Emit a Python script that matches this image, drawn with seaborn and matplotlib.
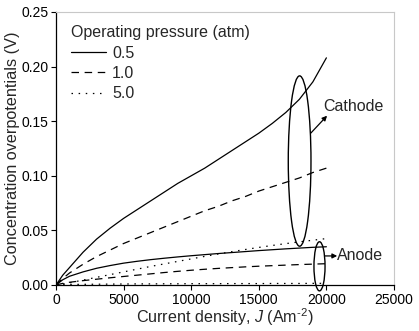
import numpy as np
import pandas as pd
import matplotlib
matplotlib.use("Agg")
import matplotlib.pyplot as plt
from matplotlib.patches import Ellipse
from matplotlib.lines import Line2D
import seaborn as sns

# ---- data ----
J = [0, 500, 1000, 2000, 3000, 4000, 5000, 6000, 7000, 8000, 9000, 10000,
     11000, 12000, 13000, 14000, 15000, 16000, 17000, 18000, 19000, 20000]

cathode_05 = [0, 0.009, 0.016, 0.030, 0.042, 0.052, 0.061, 0.069, 0.077, 0.085, 0.093, 0.100,
              0.107, 0.115, 0.123, 0.131, 0.139, 0.148, 0.158, 0.170, 0.186, 0.208]
cathode_10 = [0, 0.006, 0.011, 0.019, 0.026, 0.032, 0.038, 0.043, 0.048, 0.053, 0.058, 0.063,
              0.068, 0.072, 0.077, 0.081, 0.086, 0.090, 0.094, 0.098, 0.103, 0.107]
cathode_50 = [0, 0.001, 0.002, 0.0045, 0.007, 0.0095, 0.012, 0.0145, 0.017, 0.0193, 0.0216, 0.0239,
              0.0262, 0.0284, 0.0305, 0.0325, 0.0344, 0.0362, 0.0379, 0.0395, 0.041, 0.0425]
anode_05 = [0, 0.0048, 0.008, 0.012, 0.0153, 0.0178, 0.020, 0.0217, 0.0232, 0.0245, 0.0257, 0.0268,
            0.0278, 0.0288, 0.0297, 0.0306, 0.0315, 0.0323, 0.0331, 0.0338, 0.0345, 0.035]
anode_10 = [0, 0.0015, 0.0025, 0.004, 0.0053, 0.0066, 0.0078, 0.009, 0.0102, 0.0114, 0.0125, 0.0135,
            0.0144, 0.0152, 0.0159, 0.0166, 0.0172, 0.0177, 0.0182, 0.0187, 0.0191, 0.0195]
anode_50 = [0, 0.0003, 0.0005, 0.0006, 0.0007, 0.0008, 0.0009, 0.001, 0.001, 0.0011, 0.0011, 0.0012,
            0.0012, 0.0012, 0.0013, 0.0013, 0.0013, 0.0014, 0.0014, 0.0014, 0.0015, 0.0015]

pressures = ["0.5", "1.0", "5.0"]
x_ticks = [0, 5000, 10000, 15000, 20000, 25000]
y_ticks = [0.00, 0.05, 0.10, 0.15, 0.20, 0.25]

series = {
    ("Cathode", "0.5"): cathode_05, ("Cathode", "1.0"): cathode_10, ("Cathode", "5.0"): cathode_50,
    ("Anode", "0.5"): anode_05, ("Anode", "1.0"): anode_10, ("Anode", "5.0"): anode_50,
}
rows = []
for (el, p), vals in series.items():
    for j, v in zip(J, vals):
        rows.append({"J": j, "eta": v, "pressure": p, "electrode": el})
df = pd.DataFrame(rows)

# ---- style ----
sns.set_style("ticks")
plt.rcParams["font.family"] = ["Liberation Sans", "DejaVu Sans"]
plt.rcParams["mathtext.fontset"] = "custom"
plt.rcParams["mathtext.rm"] = "Liberation Sans"
plt.rcParams["mathtext.it"] = "Liberation Sans:italic"

fig = plt.figure(figsize=(4.19, 3.31), dpi=100)
ax = fig.add_axes([0.1337, 0.139, 0.8066, 0.8248])

dash_map = {"0.5": "", "1.0": (6.0, 4.5), "5.0": (1.2, 4.5)}
lw = 0.9
sns.lineplot(data=df, x="J", y="eta", style="pressure", style_order=pressures,
             units="electrode", estimator=None, color="black", linewidth=lw,
             dashes=dash_map, legend=False, ax=ax)

ax.set_xlim(0, 25000)
ax.set_ylim(0, 0.25)
ax.set_xticks(x_ticks)
ax.set_yticks(y_ticks)
ax.set_yticklabels([f"{v:.2f}" for v in y_ticks])
ax.tick_params(axis="both", direction="out", length=3.5, width=0.8, labelsize=10, colors="black", pad=2)

for s in ["left", "bottom"]:
    ax.spines[s].set_color("black")
    ax.spines[s].set_linewidth(0.9)
for s in ["top", "right"]:
    ax.spines[s].set_visible(True)
    ax.spines[s].set_color("#c8c8c8")
    ax.spines[s].set_linewidth(0.8)

ax.set_xlabel("Current density, $J$ (Am$^{\u2010\\mathrm{2}}$)", fontsize=11.6, labelpad=0)
ax.set_ylabel("Concentration overpotentials (V)", fontsize=11.7, labelpad=1)

# legend
handles = [Line2D([], [], color="black", lw=lw, linestyle="-"),
           Line2D([], [], color="black", lw=lw, linestyle=(0, (6.0, 4.5))),
           Line2D([], [], color="black", lw=lw, linestyle=(0, (1.2, 4.5)))]
leg = ax.legend(handles, pressures, title="Operating pressure (atm)", loc="upper left",
                bbox_to_anchor=(0.045, 0.952), frameon=False, fontsize=11.5,
                title_fontsize=11.5, handlelength=2.2, handletextpad=0.35,
                labelspacing=0.34, borderpad=0, borderaxespad=0, alignment="left")

# ellipses
ax.add_patch(Ellipse((18020, 0.1135), 1680, 0.156, fill=False, edgecolor="black", lw=1.0))
ax.add_patch(Ellipse((19490, 0.0171), 820, 0.045, fill=False, edgecolor="black", lw=1.0, clip_on=False))

# annotations
ax.annotate("", xy=(20050, 0.155), xytext=(18840, 0.139),
            arrowprops=dict(arrowstyle="-|>", color="black", lw=0.9, mutation_scale=7,
                            shrinkA=0, shrinkB=0))
ax.text(19750, 0.163, "Cathode", fontsize=11.5, va="center", ha="left")
ax.annotate("", xy=(20800, 0.0266), xytext=(19900, 0.0266),
            arrowprops=dict(arrowstyle="-|>", color="black", lw=0.9, mutation_scale=7,
                            shrinkA=0, shrinkB=0))
ax.text(20800, 0.0266, "Anode", fontsize=11.5, va="center", ha="left")

fig.savefig("out.png", dpi=100)
